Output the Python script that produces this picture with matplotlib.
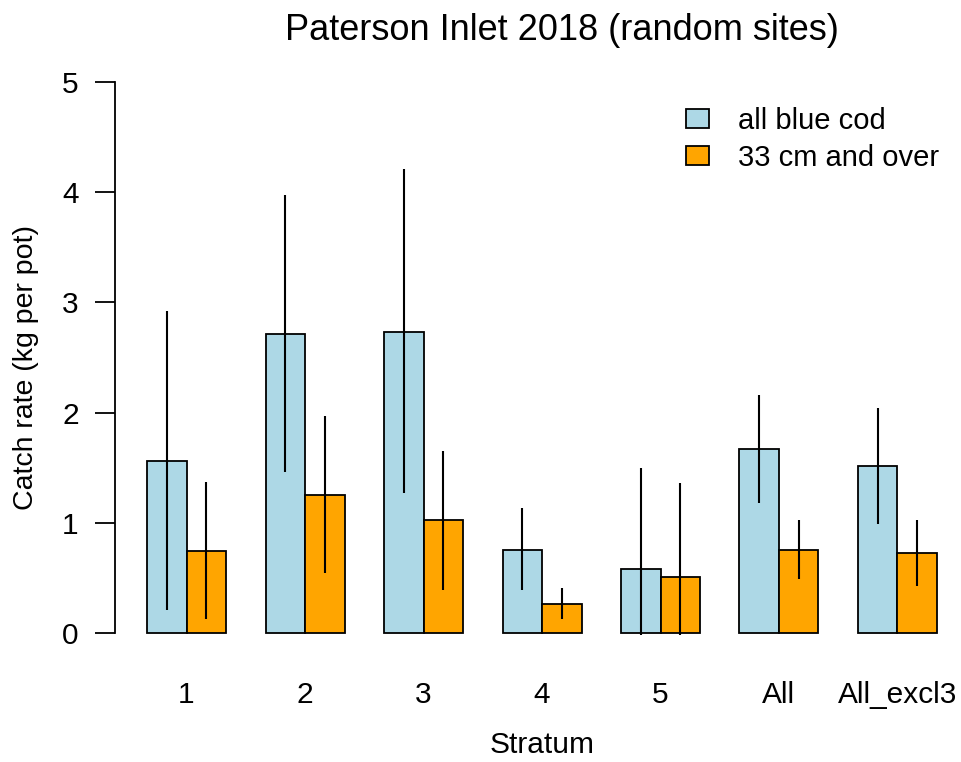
import numpy as np
import matplotlib.pyplot as plt
from matplotlib.patches import Patch

plt.rcParams['font.family'] = ['Liberation Sans', 'DejaVu Sans']

strata = ['1', '2', '3', '4', '5', 'All', 'All_excl3']
all_cod = [1.56, 2.71, 2.73, 0.755, 0.58, 1.67, 1.51]
all_lo = [0.21, 1.46, 1.27, 0.39, -0.02, 1.18, 0.985]
all_hi = [2.92, 3.98, 4.21, 1.13, 1.50, 2.16, 2.04]
big_cod = [0.74, 1.25, 1.02, 0.265, 0.51, 0.755, 0.72]
big_lo = [0.12, 0.545, 0.385, 0.12, -0.02, 0.49, 0.42]
big_hi = [1.37, 1.97, 1.655, 0.405, 1.36, 1.02, 1.02]

col_all = '#ADD8E6'
col_big = '#FFA500'

fig = plt.figure(figsize=(9.61, 7.62), dpi=100)
ax = fig.add_axes([0.1201, 0.1408, 0.8878, 0.7801])

n = len(strata)
left = 3 * np.arange(n) + 1
ax.bar(left, all_cod, width=1, align='edge', color=col_all, edgecolor='black', linewidth=1.3)
ax.bar(left + 1, big_cod, width=1, align='edge', color=col_big, edgecolor='black', linewidth=1.3)
ax.vlines(left + 0.5, all_lo, all_hi, color='black', linewidth=1.5)
ax.vlines(left + 1.5, big_lo, big_hi, color='black', linewidth=1.5)

ax.set_xlim(0.2, 21.8)
ax.set_ylim(-0.2, 5.2)

for s in ['top', 'right', 'bottom']:
    ax.spines[s].set_visible(False)
ax.spines['left'].set_bounds(0, 5)
ax.spines['left'].set_linewidth(1.3)

ax.set_yticks(range(6))
ax.tick_params(axis='y', length=14.4, width=1.3, pad=12, labelsize=21.5)
ax.set_xticks(left + 1)
ax.set_xticklabels(strata)
ax.tick_params(axis='x', length=0, pad=19, labelsize=21.5)

fig.text(562 / 961, 1 - 30 / 762, 'Paterson Inlet 2018 (random sites)', ha='center', va='center', fontsize=26)
fig.text(542 / 961, 1 - 745 / 762, 'Stratum', ha='center', va='center', fontsize=21.5)
fig.text(26 / 961, 1 - 368 / 762, 'Catch rate (kg per pot)', ha='center', va='center', rotation=90, fontsize=20.5)

handles = [Patch(facecolor=col_all, edgecolor='black', linewidth=1.3),
           Patch(facecolor=col_big, edgecolor='black', linewidth=1.3)]
ax.legend(handles, ['all blue cod', '33 cm and over'], frameon=False, fontsize=21,
          loc='upper left', bbox_to_anchor=(686 / 961, 1 - 107 / 762), bbox_transform=fig.transFigure,
          borderpad=0, borderaxespad=0, handlelength=0.78, handleheight=0.65,
          handletextpad=1.0, labelspacing=0.3)

fig.savefig('out.png', dpi=100)
